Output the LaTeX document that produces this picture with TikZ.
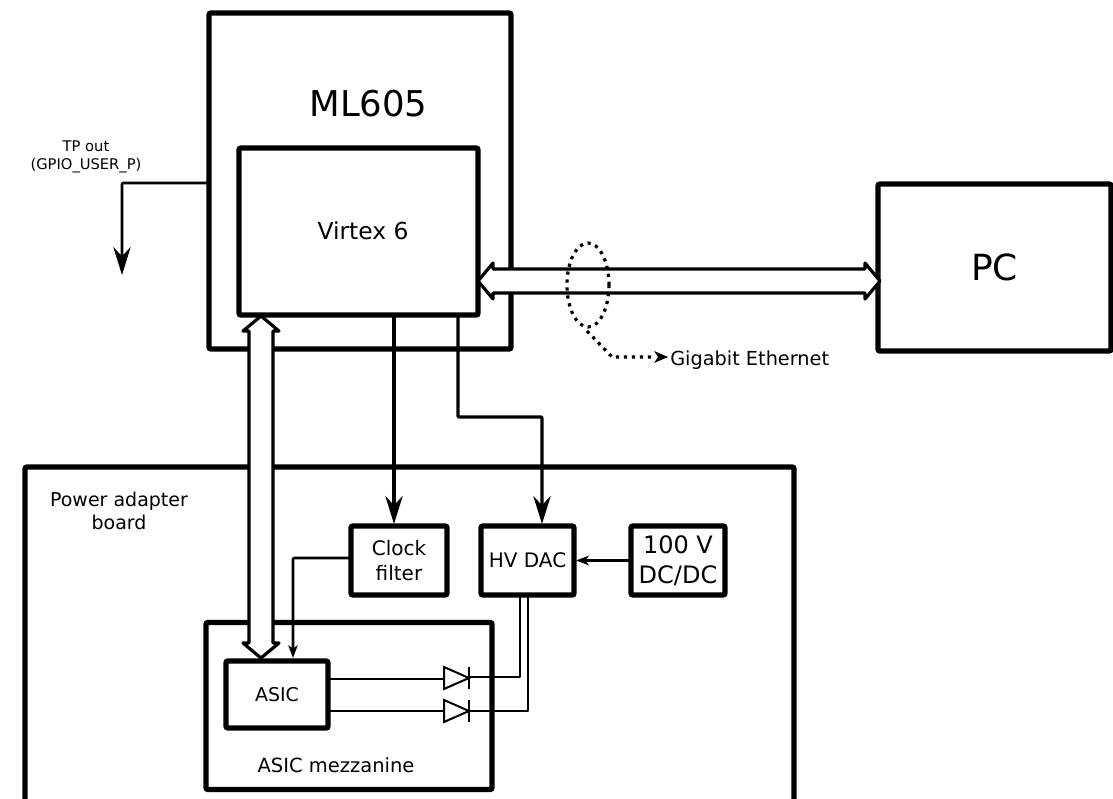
\documentclass[tikz,border=0pt]{standalone}
\usepackage{fontspec}
\setmainfont{DejaVu Sans}
\usetikzlibrary{arrows.meta,calc}
\newcommand{\fpx}[1]{\fontsize{\dimexpr#1pt*3/4\relax}{\dimexpr#1pt*15/16\relax}\selectfont}
\tikzset{
  x=0.75pt,y=-0.75pt,
  box/.style={draw=black,line width=4pt,rounded corners=1.5pt,outer sep=0pt,inner sep=0pt,align=center},
  sig/.style={draw=black,line width=2pt,line join=round,rounded corners=0.8pt},
  sigbold/.style={sig,line width=2.5pt},
  wire/.style={draw=black,line width=1.5pt,line join=round},
  bigtip/.style={-{Stealth[length=21pt,width=13pt,inset=7pt]}},
  midtip/.style={-{Stealth[length=9.5pt,width=7pt,inset=2.5pt]}},
  bus/.style={draw=black,fill=white,line width=2.4pt,line join=round,
    to path={
      -- ($(\tikztostart)!11.25pt!(\tikztotarget)!13.5pt!90:(\tikztotarget)$)
      -- ($(\tikztostart)!11.25pt!(\tikztotarget)!9pt!90:(\tikztotarget)$)
      -- ($(\tikztotarget)!11.25pt!(\tikztostart)!9pt!-90:(\tikztostart)$)
      -- ($(\tikztotarget)!11.25pt!(\tikztostart)!13.5pt!-90:(\tikztostart)$)
      -- (\tikztotarget)
      -- ($(\tikztotarget)!11.25pt!(\tikztostart)!13.5pt!90:(\tikztostart)$)
      -- ($(\tikztotarget)!11.25pt!(\tikztostart)!9pt!90:(\tikztostart)$)
      -- ($(\tikztostart)!11.25pt!(\tikztotarget)!9pt!-90:(\tikztotarget)$)
      -- ($(\tikztostart)!11.25pt!(\tikztotarget)!13.5pt!-90:(\tikztotarget)$)
      -- cycle
    }},
  diode/.style={draw=black,line width=1.5pt,line join=miter},
  dotline/.style={draw=black,line width=2.4pt,dash pattern=on 2.4pt off 3.6pt},
}
\begin{document}
\begin{tikzpicture}
\useasboundingbox (0,0) rectangle (1113,799);
\clip (0,0) rectangle (1113,799);
\fill[white] (0,0) rectangle (1113,799);
% boxes
\node[box,minimum width=226.5pt,minimum height=252pt] (ml605) at (360,181) {};
\node[box,minimum width=179.25pt,minimum height=125.25pt] (virtex) at (358.5,231.5) {};
\node[box,minimum width=174.75pt,minimum height=125.25pt,font=\fpx{36}] (pc) at (994.5,267.5) {PC};
\node[box,minimum width=576.75pt,minimum height=270pt] (board) at (409.5,647) {};
\node[box,minimum width=72pt,minimum height=51.75pt,font=\fpx{20}] (clk) at (399,560.5) {Clock\\filter};
\node[box,minimum width=69.75pt,minimum height=51.75pt,font=\fpx{20}] (dac) at (527.5,560.5) {HV DAC};
\node[box,minimum width=70.5pt,minimum height=51.75pt,font=\fpx{24}] (dcdc) at (678,560.5) {100 V\\DC/DC};
\node[box,minimum width=214.5pt,minimum height=125.25pt] (mezz) at (349,706) {};
\node[box,minimum width=76.5pt,minimum height=50.25pt,font=\fpx{19}] (asic) at (277,694.5) {ASIC};
% labels
\node[font=\fpx{35.5}] (t605) at (368.5,104) {ML605};
\node[font=\fpx{23.4}] (tvir) at (363,231) {Virtex 6};
\node[align=center,font=\fpx{14.7}] (ttp) at (86,157) {TP out\\(GPIO\_USER\_P)};
\node[align=center,font=\fpx{19}] (tpow) at (119,511) {Power adapter\\board};
\node[font=\fpx{19.5}] (tmez) at (336,765) {ASIC mezzanine};
\node[anchor=west,inner sep=0pt,font=\fpx{19.3}] (tgig) at (670,360) {Gigabit Ethernet};
% buses
\coordinate (busL) at (478,281);
\coordinate (busR) at (880,281);
\coordinate (busT) at (261,316);
\coordinate (busB) at (261,658);
\path[bus] (busL) to (busR);
\path[bus] (busT) to (busB);
% signal lines
\coordinate (tpend) at (122,275);
\coordinate (tpk) at (122,183);
\draw[sig,bigtip] (ml605.west |- tpk) -- (tpk) -- (tpend);
\draw[sigbold,bigtip] (virtex.south -| clk.north) ++(-5,0) coordinate (clkA) -- ($(clkA |- clk.north)+(0,-2)$);
\coordinate (dacK1) at (458,417);
\coordinate (dacK2) at (542,417);
\draw[sigbold,bigtip] (virtex.south -| dacK1) -- (dacK1) -- (dacK2) -- ($(dacK2 |- dac.north)+(0,-2)$);
\draw[sigbold,midtip] (dcdc.west) -- ($(dac.east)+(2,0)$);
\coordinate (clkK) at (293,558);
\draw[sig,midtip] (clk.west |- clkK) -- (clkK) -- ($(clkK |- asic.north)+(0,-3)$);
% diodes
\coordinate (d1a) at (444,678);
\coordinate (d1k) at (469,678);
\coordinate (d2a) at (444,711);
\coordinate (d2k) at (469,711);
\draw[wire] (asic.east |- 0,679) -- (d1a |- 0,679);
\draw[wire] (asic.east |- d2a) -- (d2a);
\coordinate (w1) at (520,677);
\coordinate (w2) at (528,711);
\draw[wire] (dac.south -| w1) -- (w1) -- (d1k |- w1);
\draw[wire] (dac.south -| w2) -- (w2) -- (d2k);
\draw[diode] (d1a) ++(0,-11) -- ++(25,11) -- ++(-25,11) -- cycle;
\draw[diode] (d1k) ++(0,-11) -- ++(0,22);
\draw[diode] (d2a) ++(0,-11) -- ++(25,11) -- ++(-25,11) -- cycle;
\draw[diode] (d2k) ++(0,-11) -- ++(0,22);
% ethernet bundle
\coordinate (ell) at (588,285);
\draw[dotline] (ell) ellipse [x radius=21,y radius=42];
\coordinate (lead1) at (587,331);
\coordinate (lead2) at (612,357);
\coordinate (lead3) at (668,357);
\draw[dotline] (lead1) -- (lead2) -- (655,357);
\draw[draw=none,fill=black] (654,351) -- (lead3) -- (654,363) -- (658,357) -- cycle;
\end{tikzpicture}
\end{document}
